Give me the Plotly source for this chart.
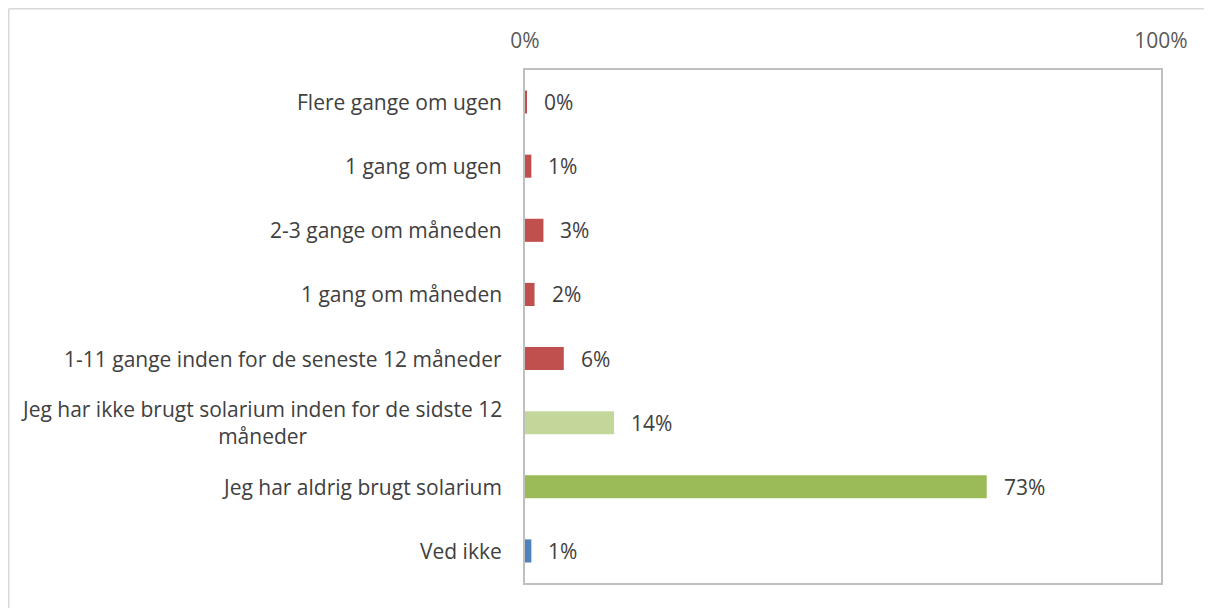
import plotly.graph_objects as go

categories = [
    "Flere gange om ugen",
    "1 gang om ugen",
    "2-3 gange om måneden",
    "1 gang om måneden",
    "1-11 gange inden for de seneste 12 måneder",
    "Jeg har ikke brugt solarium inden for de sidste 12<br>måneder",
    "Jeg har aldrig brugt solarium",
    "Ved ikke",
]
values = [0.3, 1.0, 2.9, 1.5, 6.1, 14.0, 72.6, 1.0]
labels = ["0%", "1%", "3%", "2%", "6%", "14%", "73%", "1%"]
colors = ["#C0504D", "#C0504D", "#C0504D", "#C0504D", "#C0504D",
          "#C4D79B", "#9BBB59", "#4F81BD"]
x_ticks = [0, 100]
x_ticktext = ["0%", "100%"]

FONT = "Open Sans"
TXT = "#404040"
FS = 21

fig = go.Figure()
fig.add_trace(go.Bar(
    y=list(range(len(categories))),
    x=values,
    orientation="h",
    marker=dict(color=colors, line=dict(width=0)),
    hoverinfo="skip",
))

annotations = []
for i, (cat, v, lab) in enumerate(zip(categories, values, labels)):
    annotations.append(dict(
        x=0, xref="paper", y=i, yref="y", text=cat, showarrow=False,
        xanchor="right", yanchor="middle", align="center", xshift=-21,
        font=dict(family=FONT, size=FS, color=TXT),
    ))
    annotations.append(dict(
        x=v, xref="x", y=i, yref="y", text=lab, showarrow=False,
        xanchor="left", yanchor="middle", xshift=15,
        font=dict(family=FONT, size=FS, color=TXT),
    ))

shapes = [
    dict(type="line", xref="paper", yref="paper", x0=-0.8117, x1=-0.8117,
         y0=1.1194, y1=-0.06, line=dict(color="#D9D9D9", width=1.5)),
    dict(type="line", xref="paper", yref="paper", x0=-0.8117, x1=1.1,
         y0=1.1194, y1=1.1194, line=dict(color="#D9D9D9", width=1.5)),
]

fig.update_layout(
    width=1204, height=600,
    margin=dict(l=517, r=51, t=62, b=25),
    paper_bgcolor="white", plot_bgcolor="white",
    showlegend=False,
    bargap=0.64,
    annotations=annotations,
    shapes=shapes,
    font=dict(family=FONT, size=FS, color=TXT),
)
fig.update_xaxes(
    side="top", range=[0, 100], tickvals=x_ticks, ticktext=x_ticktext,
    showgrid=False, zeroline=False, showline=True, mirror=True,
    linecolor="#BFBFBF", linewidth=2, ticks="", ticklabelstandoff=12,
    tickfont=dict(family=FONT, size=FS, color="#595959"),
)
fig.update_yaxes(
    range=[len(categories) - 0.5, -0.5], showticklabels=False,
    showgrid=False, zeroline=False, showline=True, mirror=True,
    linecolor="#BFBFBF", linewidth=2, ticks="",
)

fig.write_html("out.html")
